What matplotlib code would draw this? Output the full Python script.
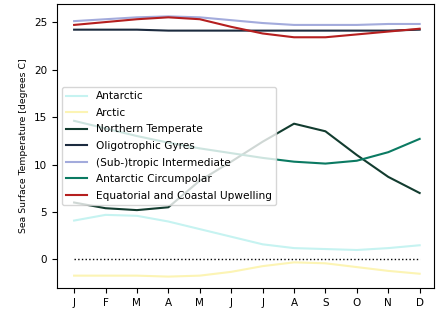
import numpy as np
import matplotlib
matplotlib.use('Agg')
import matplotlib.pyplot as plt

months = ['J', 'F', 'M', 'A', 'M', 'J', 'J', 'A', 'S', 'O', 'N', 'D']

# mean monthly SST per biome (degrees C)
antarctic = [4.1, 4.7, 4.6, 4.0, 3.2, 2.4, 1.6, 1.2, 1.1, 1.0, 1.2, 1.5]
arctic = [-1.7, -1.7, -1.7, -1.8, -1.7, -1.3, -0.7, -0.3, -0.4, -0.8, -1.2, -1.5]
northern_temperate = [6.0, 5.4, 5.2, 5.5, 8.3, 10.3, 12.4, 14.3, 13.5, 11.0, 8.7, 7.0]
oligotrophic = [24.2, 24.2, 24.2, 24.1, 24.1, 24.1, 24.1, 24.1, 24.1, 24.1, 24.1, 24.2]
subtropic = [25.1, 25.3, 25.5, 25.6, 25.5, 25.2, 24.9, 24.7, 24.7, 24.7, 24.8, 24.8]
circumpolar = [14.6, 13.8, 13.0, 12.3, 11.7, 11.2, 10.7, 10.3, 10.1, 10.4, 11.3, 12.7]
upwelling = [24.7, 25.0, 25.3, 25.5, 25.3, 24.5, 23.8, 23.4, 23.4, 23.7, 24.0, 24.3]

labels = ['Antarctic', 'Arctic', 'Northern Temperate', 'Oligotrophic Gyres',
          '(Sub-)tropic Intermediate', 'Antarctic Circumpolar',
          'Equatorial and Coastal Upwelling']
series = [antarctic, arctic, northern_temperate, oligotrophic,
          subtropic, circumpolar, upwelling]
colores = ['#c6f3f1', '#fcf4b4', '#123c2f', '#1c2b3f',
           '#a3abdc', '#0b7a62', '#b51f1f']

fig = plt.figure(figsize=(4.44, 3.1), dpi=100)
ax = fig.add_axes([0.128, 0.071, 0.849, 0.916])

x = np.arange(len(months))
for vals, lab, col in zip(series, labels, colores):
    ax.plot(x, vals, color=col, lw=1.5, label=lab)

ax.plot(x, np.zeros(len(x)), color='black', lw=1, ls=':')

ax.set_xticks(x)
ax.set_xticklabels(months, fontsize=7.5)
ax.set_yticks([0, 5, 10, 15, 20, 25])
ax.tick_params(axis='y', labelsize=7.5)
ax.set_xlim(-0.55, 11.45)
ax.set_ylim(-3.0, 26.9)
ax.set_ylabel('Sea Surface Temperature [degrees C]', fontsize=6.7)

ax.legend(loc='center left', fontsize=7.6, framealpha=0.8, labelspacing=0.62)

plt.savefig('out.png', dpi=100)
